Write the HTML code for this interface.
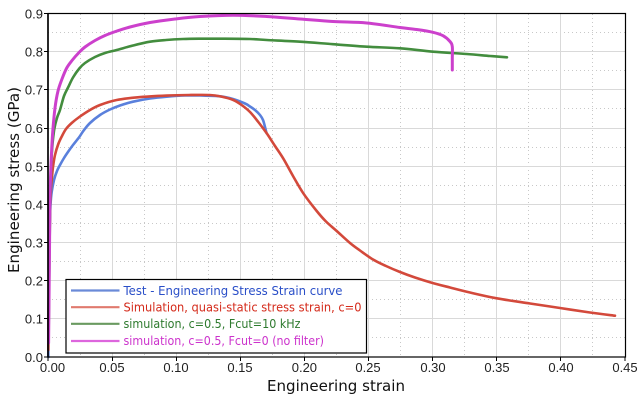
<!DOCTYPE html>
<html><head><meta charset="utf-8"><style>
html,body{margin:0;padding:0;background:#fff;}
svg{display:block;}
</style></head><body>
<svg id="chart" width="640" height="400" viewBox="0 0 640 400" xmlns="http://www.w3.org/2000/svg">
<rect x="0" y="0" width="640" height="400" fill="#fff"/>
<!-- minor grid -->
<g stroke="#c8c8c8" stroke-width="1" stroke-dasharray="1,3" fill="none">
<path d="M80.5 14V357M144.5 14V357M208.5 14V357M272.5 14V357M336.5 14V357M400.5 14V357M464.5 14V357M528.5 14V357M592.5 14V357"/>
<path d="M48 337.5H625M48 299.5H625M48 261.5H625M48 223.5H625M48 185.5H625M48 147.5H625M48 108.5H625M48 70.5H625M48 32.5H625"/>
</g>
<!-- major grid -->
<g stroke="#d9d9d9" stroke-width="1" fill="none">
<path d="M112.5 14V357M176.5 14V357M240.5 14V357M304.5 14V357M368.5 14V357M432.5 14V357M496.5 14V357M560.5 14V357"/>
<path d="M48 318.5H625M48 280.5H625M48 242.5H625M48 204.5H625M48 166.5H625M48 128.5H625M48 89.5H625M48 51.5H625"/>
</g>
<!-- curves -->
<g fill="none" stroke-linejoin="round" stroke-linecap="round">
<polyline class="c" stroke="#5a80dc" stroke-width="2.6" points="48.3,357 48.5,320 49,280 49.5,230 50.5,205 51.7,192 54,180 57,171 60,165 64,158 68.3,151.5 73,145 79.3,137 83.3,131 90,123 100,115 110,109.5 120,105.5 133,101.7 150,98.5 166.7,96.7 185,95.5 200,95.5 220,96.3 233,99 245,103.5 250,106.5 255,110 260,115 263,120 265,127 266.5,133"/>
<polyline class="c" stroke="#d3493b" stroke-width="2.6" points="48.3,350 48.7,300 49.3,250 50,212 51,188 51.7,180 53,167 55,155 58.3,144 62,136 66,129 71.7,123 79.3,117 90,110 100,105 116.7,100 137.8,97.3 166.7,95.6 189,95 209.6,95 221,96.5 233.3,100 241.6,105 250,112 258.3,122 266.7,133.3 275,146 283.3,158.6 293,176 303.3,193.3 316.7,211 326,221.5 336.7,231 350,243 360,250.5 373,259.5 386,266 400,272 415,277.5 431.7,282.7 450,287.5 470,292.5 496.7,298.3 530,303.5 560,308 590,312.5 615,315.7"/>
<polyline class="c" stroke="#438d3e" stroke-width="2.6" points="48.5,343 49,300 49.5,250 50.5,190 51.7,155 54,131 57,118 60,110 64,96 68.3,87 73,77.5 79.3,68.5 85,63 95,57 105,53 116.7,50 133,45.5 150,41.7 166,40 183,39 200,38.7 220,38.7 250,39 266.7,40 300,41.7 333,44.2 366.7,46.7 400,48.3 433,51.7 466.7,54 490,56 507,57.3"/>
<polyline class="c" stroke="#cc40cc" stroke-width="3" points="48.6,343 49,300 49.5,250 50,197 51,165 52.5,135 55,108 58,91 62,79 66.7,68 72,60.5 79,52.5 85,47 95,40.5 105,35.5 117,31 130,27 150,22.5 175,19 200,16.5 233,15.2 266.7,16.5 300,19 333,21.5 366.7,23 400,27.5 416.7,29.5 433,32.3 443,35.7 450,41.5 452.3,46.7 452.3,58 452.3,70"/>
</g>
<!-- frame -->
<rect x="48" y="13.5" width="577.5" height="343.5" fill="none" stroke="#000" stroke-width="1.2"/>
<path d="M48 13.5V357" stroke="#000" stroke-width="1.6"/>
<!-- ticks -->
<g stroke="#000" stroke-width="1">
<path d="M44 357H48M44 318.5H48M44 280.5H48M44 242.5H48M44 204.5H48M44 166.5H48M44 128.5H48M44 89.5H48M44 51.5H48M44 13.5H48"/>
<path d="M48 357V361M112.5 357V361M176.5 357V361M240.5 357V361M304.5 357V361M368.5 357V361M432.5 357V361M496.5 357V361M560.5 357V361M625 357V361"/>
</g>
<!-- y tick labels -->
<g font-family="'Liberation Sans', Arial, sans-serif" font-size="13" fill="#222" text-anchor="end">
<text x="43" y="362">0.0</text>
<text x="43" y="323.5">0.1</text>
<text x="43" y="285.5">0.2</text>
<text x="43" y="247.5">0.3</text>
<text x="43" y="209.5">0.4</text>
<text x="43" y="171.5">0.5</text>
<text x="43" y="133">0.6</text>
<text x="43" y="94.5">0.7</text>
<text x="43" y="56.5">0.8</text>
<text x="43" y="18.5">0.9</text>
</g>
<!-- x tick labels -->
<g font-family="'Liberation Sans', Arial, sans-serif" font-size="13" fill="#222" text-anchor="middle">
<text x="52.5" y="372">0.00</text>
<text x="112" y="372">0.05</text>
<text x="176" y="372">0.10</text>
<text x="240" y="372">0.15</text>
<text x="304.4" y="372">0.20</text>
<text x="368" y="372">0.25</text>
<text x="433" y="372">0.30</text>
<text x="497" y="372">0.35</text>
<text x="561" y="372">0.40</text>
<text x="625" y="372">0.45</text>
</g>
<!-- axis titles -->
<text x="336" y="391" font-family="'DejaVu Sans', sans-serif" font-size="15" fill="#111" text-anchor="middle" textLength="138" lengthAdjust="spacingAndGlyphs">Engineering strain</text>
<text transform="translate(19,180) rotate(-90)" x="0" y="0" font-family="'DejaVu Sans', sans-serif" font-size="15" fill="#111" text-anchor="middle" textLength="186" lengthAdjust="spacingAndGlyphs">Engineering stress (GPa)</text>
<!-- legend -->
<rect x="66" y="279.5" width="300.5" height="73.5" fill="#fff" stroke="#000" stroke-width="1.2"/>
<g stroke-width="2.2">
<line x1="71" y1="290.5" x2="119.5" y2="290.5" stroke="#6a8ad8"/>
<line x1="71" y1="307.2" x2="119.5" y2="307.2" stroke="#e07a6e"/>
<line x1="71" y1="323.8" x2="119.5" y2="323.8" stroke="#6a9a60"/>
<line x1="71" y1="341" x2="119.5" y2="341" stroke="#dd66dd"/>
</g>
<g font-family="'DejaVu Sans', sans-serif" font-size="12">
<text x="123.5" y="294.8" fill="#2a4fc8" textLength="219" lengthAdjust="spacingAndGlyphs">Test - Engineering Stress Strain curve</text>
<text x="123.5" y="311.5" fill="#d42a1a" textLength="238" lengthAdjust="spacingAndGlyphs">Simulation, quasi-static stress strain, c=0</text>
<text x="123.5" y="328.2" fill="#2e7a2e" textLength="177" lengthAdjust="spacingAndGlyphs">simulation, c=0.5, Fcut=10 kHz</text>
<text x="123.5" y="345.2" fill="#cc33cc" textLength="200.5" lengthAdjust="spacingAndGlyphs">simulation, c=0.5, Fcut=0 (no filter)</text>
</g>
</svg>
<script>
(function(){
  var NS="http://www.w3.org/2000/svg";
  var pls=document.querySelectorAll("polyline.c");
  for(var k=0;k<pls.length;k++){
    var pl=pls[k];
    var raw=pl.getAttribute("points").trim().split(/\s+/);
    var p=raw.map(function(s){var a=s.split(",");return [parseFloat(a[0]),parseFloat(a[1])];});
    var d="M"+p[0][0]+" "+p[0][1];
    for(var i=0;i<p.length-1;i++){
      var p0=p[i>0?i-1:i],p1=p[i],p2=p[i+1],p3=p[i+2<p.length?i+2:i+1];
      var t=1/6;
      var c1x=p1[0]+(p2[0]-p0[0])*t,c1y=p1[1]+(p2[1]-p0[1])*t;
      var c2x=p2[0]-(p3[0]-p1[0])*t,c2y=p2[1]-(p3[1]-p1[1])*t;
      d+="C"+c1x.toFixed(2)+" "+c1y.toFixed(2)+" "+c2x.toFixed(2)+" "+c2y.toFixed(2)+" "+p2[0]+" "+p2[1];
    }
    var path=document.createElementNS(NS,"path");
    path.setAttribute("d",d);
    path.setAttribute("stroke",pl.getAttribute("stroke"));
    path.setAttribute("stroke-width",pl.getAttribute("stroke-width"));
    path.setAttribute("fill","none");
    pl.parentNode.replaceChild(path,pl);
  }
})();
</script>
</body></html>
